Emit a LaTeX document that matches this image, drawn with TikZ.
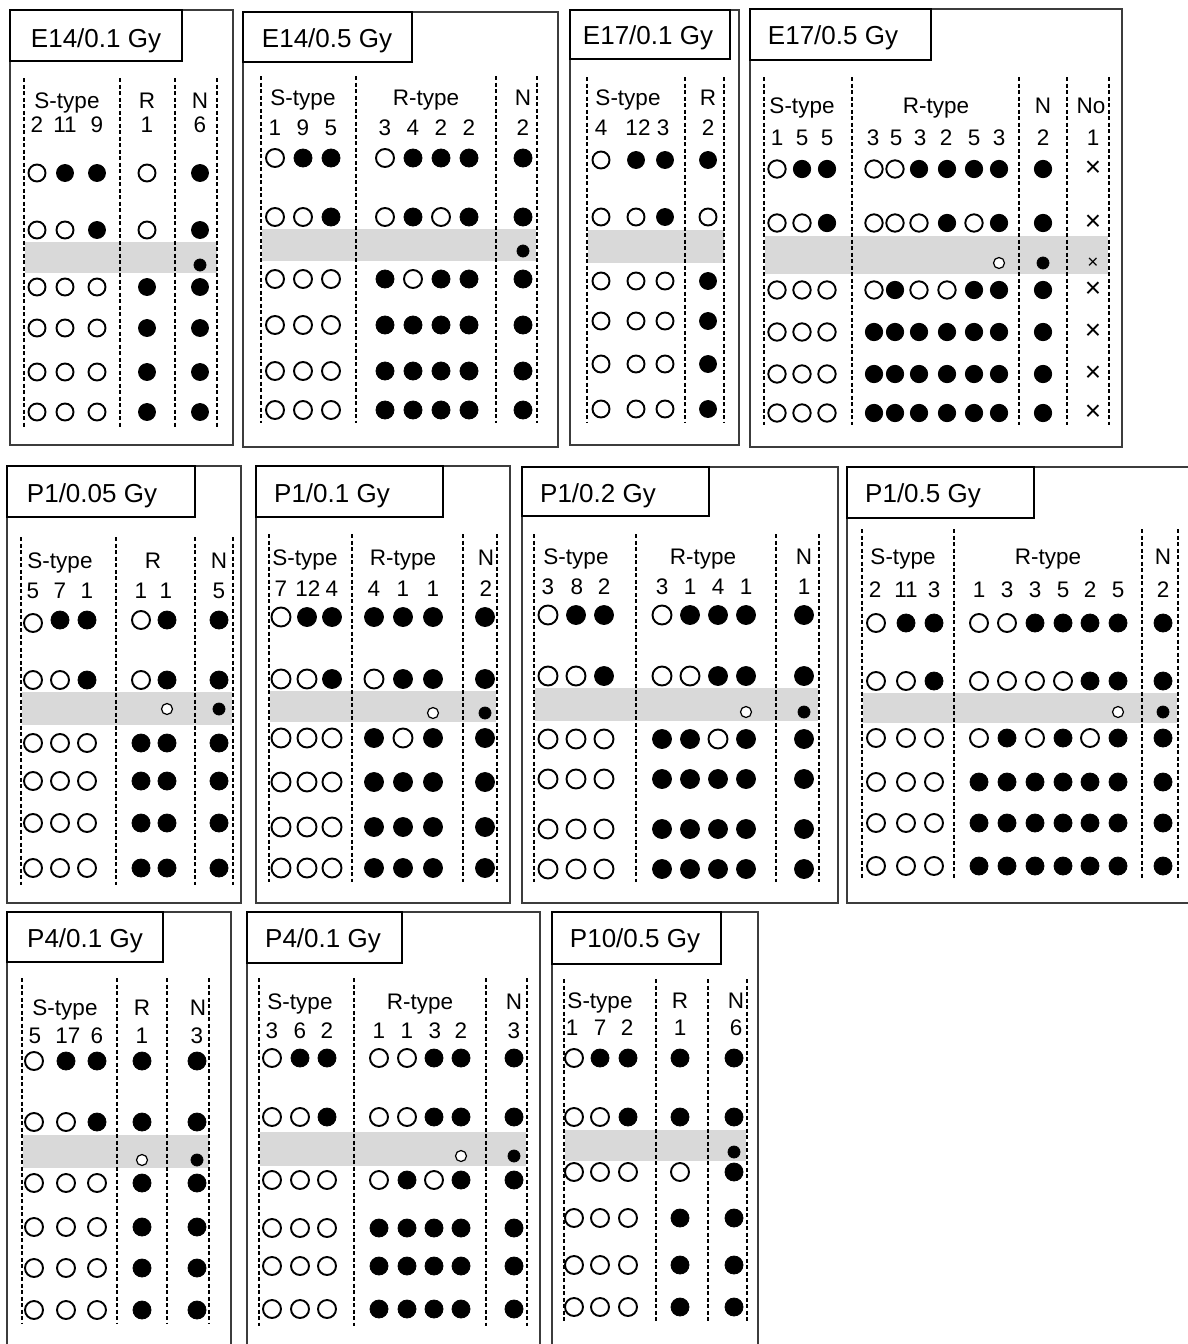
\documentclass[tikz,border=0pt]{standalone}
\usepackage{fontspec}
\setmainfont{Liberation Sans}
\definecolor{bandgray}{RGB}{217,217,217}
\definecolor{boxgray}{RGB}{60,60,60}
\tikzset{
  pbox/.style={draw=boxgray, line width=1.1pt},
  tbox/.style={draw=black, line width=1.2pt, fill=white},
  dl/.style={draw=black, line width=1.3pt, dash pattern=on 4pt off 2.5pt},
  band/.style={fill=bandgray},
  co/.style={draw=black, line width=1.9pt, fill=white},
  cf/.style={draw=black, line width=0.8pt, fill=black},
  cos/.style={draw=black, line width=1.2pt, fill=white},
  ttl/.style={font=\fontsize{26}{29}\selectfont, inner sep=0pt, text height=18.6pt, text depth=0pt},
  hd/.style={font=\fontsize{22.5}{25}\selectfont, inner sep=0pt, text height=16.1pt, text depth=0pt},
  xm/.style={font=\fontsize{28}{30}\selectfont, inner sep=0pt},
  xs/.style={font=\fontsize{19}{21}\selectfont, inner sep=0pt},
}
\newcommand\crow[3]{\foreach \px/\pst in {#3}{\path[c\pst] (\px,#1) circle[radius=#2pt];}}
\newcommand\crows[3]{\foreach \yy in {#1}{\crow{\yy}{#2}{#3}}}
\newcommand\dls[3]{\foreach \px in {#3}{\draw[dl] (\px,#1) -- (\px,#2);}}
\newcommand\lbl[3]{\foreach \px/\ptxt [count=\k] in {#3}{\node[hd] (#1\k) at (\px,#2) {\ptxt};}}
\newcommand\sopen[2]{\path[cos] (#1,#2) circle[radius=5.5pt];}
\newcommand\sfill[2]{\path[cf] (#1,#2) circle[radius=6pt];}
\begin{document}
\begin{tikzpicture}[x=1pt,y=-1pt]
\useasboundingbox (0,0) rectangle (1188,1344);
\clip (0,0) rectangle (1188,1344);
\fill[white] (0,0) rectangle (1188,1344);

% ---------- Panel 1: E14/0.1 Gy
\draw[pbox] (10,10) rectangle (233,445);
\draw[tbox] (10,10) rectangle (182,61);
\node[ttl] (t1) at (96,38) {E14/0.1 Gy};
\fill[band] (25,242) rectangle (217,273);
\dls{78}{427}{24,120,175,217}
\lbl{p1h}{100}{67/S-type,147/R,200/N}
\lbl{p1n}{124}{37/2,65/11,97/9,147/1,200/6}
\crow{173}{8.5}{37/o,65/f,97/f,147/o,200/f}
\crow{230}{8.5}{37/o,65/o,97/f,147/o,200/f}
\sfill{200}{265}
\crows{287,328,372,412}{8.5}{37/o,65/o,97/o,147/f,200/f}

% ---------- Panel 2: E14/0.5 Gy
\draw[pbox] (243,12) rectangle (558,447);
\draw[tbox] (243,12) rectangle (412,62);
\node[ttl] (t2) at (327,38) {E14/0.5 Gy};
\fill[band] (262,229) rectangle (536,261);
\dls{76}{423}{261,356,496,537}
\lbl{p2h}{97}{303/S-type,426/R-type,523/N}
\lbl{p2n}{127}{275/1,303/9,331/5,385/3,413/4,441/2,469/2,523/2}
\crow{158}{9}{275/o,303/f,331/f,385/o,413/f,441/f,469/f,523/f}
\crow{217}{9}{275/o,303/o,331/f,385/o,413/f,441/o,469/f,523/f}
\sfill{523}{251}
\crow{279}{9}{275/o,303/o,331/o,385/f,413/o,441/f,469/f,523/f}
\crows{325,371,410}{9}{275/o,303/o,331/o,385/f,413/f,441/f,469/f,523/f}

% ---------- Panel 3: E17/0.1 Gy
\draw[pbox] (570,10) rectangle (739,445);
\draw[tbox] (570,10) rectangle (730,59);
\node[ttl] (t3) at (648,35) {E17/0.1 Gy};
\fill[band] (588,230) rectangle (724,263);
\dls{77}{422}{587,685,724}
\lbl{p3h}{97}{628/S-type,708/R}
\lbl{p3n}{127}{601/4,638/12,663/3,708/2}
\crow{160}{8.5}{601/o,636/f,665/f,708/f}
\crow{217}{8.5}{601/o,636/o,665/f,708/o}
\crows{281,321,364,409}{8.5}{601/o,636/o,665/o,708/f}

% ---------- Panel 4: E17/0.5 Gy
\draw[pbox] (750,9) rectangle (1122,447);
\draw[tbox] (750,9) rectangle (931,60);
\node[ttl] (t4) at (833,35) {E17/0.5 Gy};
\fill[band] (765,236) rectangle (1108,274);
\dls{77}{425}{764,852,1019,1067,1109}
\lbl{p4h}{105}{802/S-type,936/R-type,1043/N,1091/No}
\lbl{p4n}{137}{777/1,802/5,827/5,873/3,896/5,920/3,946/2,974/5,999/3,1043/2,1093/1}
\crow{169}{8.7}{777/o,802/f,827/f,874/o,895/o,919/f,947/f,974/f,999/f,1043/f}
\crow{223}{8.7}{777/o,802/o,827/f,874/o,895/o,919/o,947/f,974/o,999/f,1043/f}
\sopen{999}{263}
\sfill{1043}{263}
\node[xs] (p4xs) at (1093,263) {×};
\crow{290}{8.7}{777/o,802/o,827/o,874/o,895/f,919/o,947/o,974/f,999/f,1043/f}
\crows{332,374,413}{8.7}{777/o,802/o,827/o,874/f,895/f,919/f,947/f,974/f,999/f,1043/f}
\foreach \yy [count=\k] in {169,223,290,332,374,413}{\node[xm] (p4x\k) at (1093,\yy) {×};}

% ---------- Panel 5: P1/0.05 Gy
\draw[pbox] (7,466) rectangle (241,903);
\draw[tbox] (7,466) rectangle (195,517);
\node[ttl] (t5) at (92,493) {P1/0.05 Gy};
\fill[band] (22,692) rectangle (232,725);
\dls{537}{885}{21,116,195,233}
\lbl{p5h}{560}{60/S-type,153/R,219/N}
\lbl{p5n}{590}{33/5,60/7,87/1,141/1,166/1,219/5}
\path[co] (33,623) circle[radius=9pt];
\crow{620}{9}{60/f,87/f,141/o,167/f,219/f}
\crow{680}{9}{33/o,60/o,87/f,141/o,167/f,219/f}
\sopen{167}{709}
\sfill{219}{709}
\crows{743,781,823,868}{9}{33/o,60/o,87/o,141/f,167/f,219/f}

% ---------- Panel 6: P1/0.1 Gy
\draw[pbox] (256,466) rectangle (510,903);
\draw[tbox] (256,466) rectangle (443,517);
\node[ttl] (t6) at (332,493) {P1/0.1 Gy};
\fill[band] (270,691) rectangle (496,722);
\dls{534}{882}{269,352,463,497}
\lbl{p6h}{557}{305/S-type,403/R-type,486/N}
\lbl{p6n}{588}{281/7,308/12,332/4,374/4,403/1,433/1,486/2}
\crow{617}{9.5}{281/o,307/f,332/f,374/f,403/f,433/f,485/f}
\crow{679}{9.5}{281/o,307/o,332/f,374/o,403/f,433/f,485/f}
\sopen{433}{713}
\sfill{485}{713}
\crow{738}{9.5}{281/o,307/o,332/o,374/f,403/o,433/f,485/f}
\crows{782,827,868}{9.5}{281/o,307/o,332/o,374/f,403/f,433/f,485/f}

% ---------- Panel 7: P1/0.2 Gy
\draw[pbox] (522,467) rectangle (838,903);
\draw[tbox] (522,467) rectangle (709,516);
\node[ttl] (t7) at (598,493) {P1/0.2 Gy};
\fill[band] (535,688) rectangle (818,721);
\dls{534}{882}{534,636,776,819}
\lbl{p7h}{556}{576/S-type,703/R-type,804/N}
\lbl{p7n}{586}{548/3,577/8,604/2,662/3,690/1,718/4,746/1,804/1}
\crow{615}{9.5}{548/o,576/f,604/f,662/o,690/f,718/f,746/f,804/f}
\crow{676}{9.5}{548/o,576/o,604/f,662/o,690/o,718/f,746/f,804/f}
\sopen{746}{712}
\sfill{804}{712}
\crow{739}{9.5}{548/o,576/o,604/o,662/f,690/f,718/o,746/f,804/f}
\crows{779,829,869}{9.5}{548/o,576/o,604/o,662/f,690/f,718/f,746/f,804/f}

% ---------- Panel 8: P1/0.5 Gy
\draw[pbox] (847,467) rectangle (1200,903);
\draw[tbox] (847,467) rectangle (1034,518);
\node[ttl] (t8) at (923,493) {P1/0.5 Gy};
\fill[band] (863,693) rectangle (1177,723);
\dls{529}{878}{862,954,1142,1178}
\lbl{p8h}{556}{903/S-type,1048/R-type,1163/N}
\lbl{p8n}{589}{875/2,906/11,934/3,979/1,1007/3,1035/3,1063/5,1090/2,1118/5,1163/2}
\crow{623}{9}{876/o,906/f,934/f,979/o,1007/o,1035/f,1063/f,1090/f,1118/f,1163/f}
\crow{681}{9}{876/o,906/o,934/f,979/o,1007/o,1035/o,1063/o,1090/f,1118/f,1163/f}
\sopen{1118}{712}
\sfill{1163}{712}
\crow{738}{9}{876/o,906/o,934/o,979/o,1007/f,1035/o,1063/f,1090/o,1118/f,1163/f}
\crows{782,823,866}{9}{876/o,906/o,934/o,979/f,1007/f,1035/f,1063/f,1090/f,1118/f,1163/f}

% ---------- Panel 9: P4/0.1 Gy
\draw[pbox] (7,912) rectangle (231,1360);
\draw[tbox] (7,912) rectangle (163,962);
\node[ttl] (t9) at (85,938) {P4/0.1 Gy};
\fill[band] (23,1135) rectangle (209,1168);
\dls{978}{1323}{22,117,167,209}
\lbl{p9h}{1007}{65/S-type,142/R,198/N}
\lbl{p9n}{1035}{35/5,68/17,97/6,142/1,197/3}
\crow{1061}{9}{34/o,66/f,97/f,142/f,197/f}
\crow{1122}{9}{34/o,66/o,97/f,142/f,197/f}
\sopen{142}{1160}
\sfill{197}{1160}
\crows{1183,1227,1268,1310}{9}{34/o,66/o,97/o,142/f,197/f}

% ---------- Panel 10: P4/0.1 Gy
\draw[pbox] (247,912) rectangle (540,1360);
\draw[tbox] (247,912) rectangle (402,963);
\node[ttl] (t10) at (323,938) {P4/0.1 Gy};
\fill[band] (260,1132) rectangle (526,1166);
\dls{978}{1326}{259,354,486,527}
\lbl{p10h}{1001}{300/S-type,420/R-type,514/N}
\lbl{p10n}{1030}{272/3,300/6,327/2,379/1,407/1,435/3,461/2,514/3}
\crow{1058}{9}{272/o,300/f,327/f,379/o,407/o,434/f,461/f,514/f}
\crow{1117}{9}{272/o,300/o,327/f,379/o,407/o,434/f,461/f,514/f}
\sopen{461}{1156}
\sfill{514}{1156}
\crow{1180}{9}{272/o,300/o,327/o,379/o,407/f,434/o,461/f,514/f}
\crows{1228,1266,1309}{9}{272/o,300/o,327/o,379/f,407/f,434/f,461/f,514/f}

% ---------- Panel 11: P10/0.5 Gy
\draw[pbox] (552,912) rectangle (758,1360);
\draw[tbox] (552,912) rectangle (721,964);
\node[ttl] (t11) at (635,938) {P10/0.5 Gy};
\fill[band] (565,1130) rectangle (746,1161);
\dls{979}{1323}{564,656,708,747}
\lbl{p11h}{1000}{600/S-type,680/R,736/N}
\lbl{p11n}{1027}{572/1,600/7,627/2,680/1,736/6}
\crow{1058}{9}{574/o,600/f,628/f,680/f,734/f}
\crow{1117}{9}{574/o,600/o,628/f,680/f,734/f}
\sfill{734}{1152}
\crow{1172}{9}{574/o,600/o,628/o,680/o,734/f}
\crows{1218,1265,1307}{9}{574/o,600/o,628/o,680/f,734/f}
\end{tikzpicture}
\end{document}
